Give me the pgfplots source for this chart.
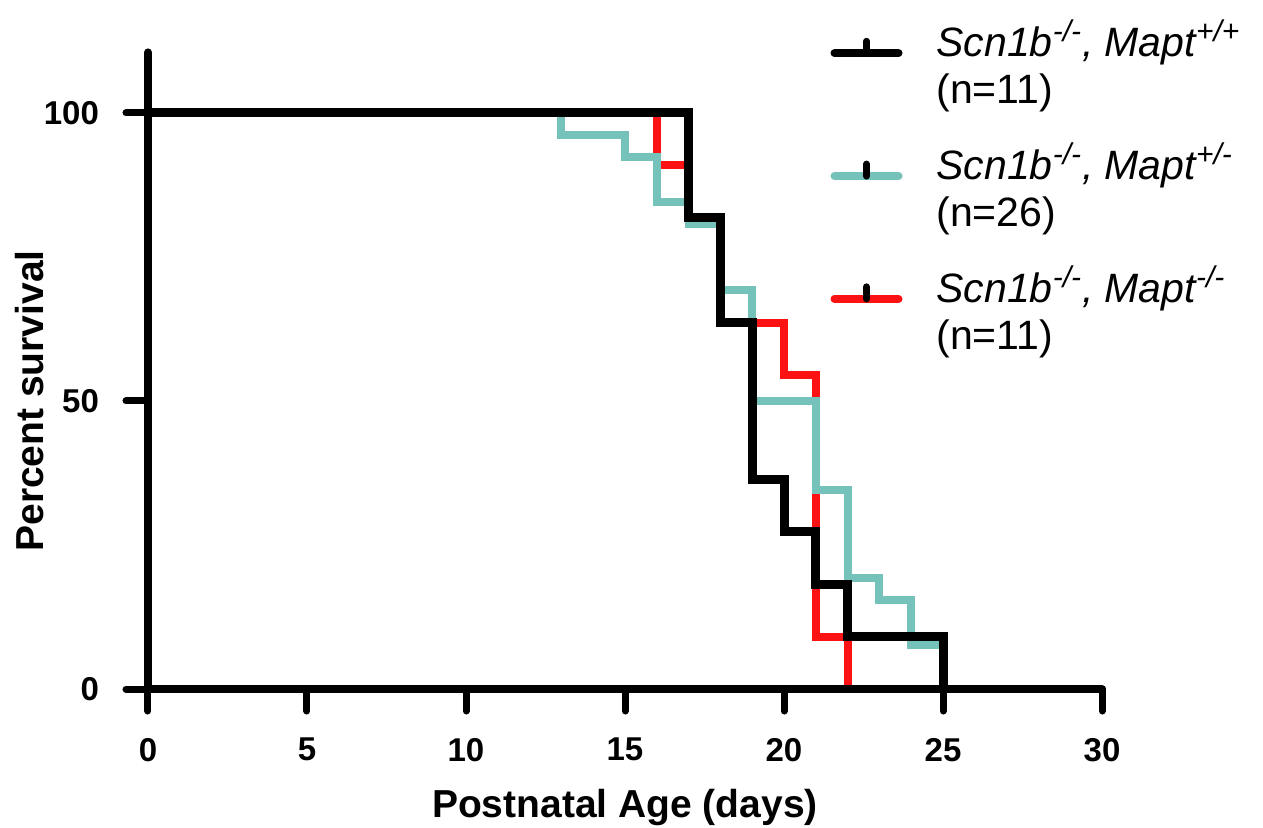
\documentclass[border=0pt]{standalone}
\usepackage{fontspec}
\setmainfont{Liberation Sans}
\usepackage{pgfplots}
\pgfplotsset{compat=1.18}

\definecolor{kmcyan}{RGB}{116,194,186}
\definecolor{kmred}{RGB}{252,18,18}
\newcommand{\gsup}[1]{\textsuperscript{\fontsize{15}{15}\selectfont #1}}

\begin{document}
\begin{tikzpicture}
\begin{axis}[
    scale only axis,
    width=477pt,
    height=318.3pt,
    xmin=0, xmax=30,
    ymin=0, ymax=110.5,
    axis x line=bottom,
    axis y line=left,
    axis line style={line width=4pt, line cap=round, -},
    xtick={0,5,...,30},
    ytick={0,50,100},
    tick align=outside,
    major tick length=11pt,
    tick style={line width=3.5pt, line cap=round, black},
    /pgf/number format/assume math mode=true,
    ticklabel style={font=\bfseries\fontsize{16.5}{19}\selectfont},
    xticklabel style={yshift=-10pt},
    yticklabel style={xshift=-10pt},
    xlabel={Postnatal Age (days)},
    ylabel={Percent survival},
    label style={font=\bfseries\fontsize{19.5}{23}\selectfont},
    xlabel style={yshift=-7pt},
    ylabel style={at={(ticklabel cs:0.4525)}, yshift=-7pt},
    clip=false,
    axis on top,
    reverse legend,
    legend image code/.code={
        \draw[#1, line cap=round, line width=4pt] (0pt,5pt) -- (32pt,5pt);
        \draw[black, line width=3.5pt, line cap=round] (16pt,5pt) -- (16pt,11pt);
    },
    legend style={at={(0.715,1.058)}, anchor=north west, draw=none, fill=none,
        inner sep=0pt, row sep=14pt, column sep=15pt,
        font=\fontsize{20.5}{23.5}\selectfont,
        nodes={align=left}},
    legend cell align=left,
]
\addplot[kmred, line width=4pt, const plot, line join=miter] coordinates {
    (0,100) (16,90.9) (17,81.8) (18,63.6) (20,54.5) (21,9.1) (22,0)
};
\addlegendentry{\textit{Scn1b\gsup{-/-}, Mapt\gsup{-/-}}\\(n=11)}
\addplot[kmcyan, line width=4pt, const plot, line join=miter] coordinates {
    (0,100) (13,96.2) (15,92.3) (16,84.6) (17,80.8) (18,69.2) (19,50)
    (21,34.6) (22,19.2) (23,15.4) (24,7.7) (25,0)
};
\addlegendentry{\textit{Scn1b\gsup{-/-}, Mapt\gsup{+/-}}\\(n=26)}
\addplot[black, line width=4.5pt, const plot, line join=miter] coordinates {
    (0,100) (17,81.8) (18,63.6) (19,36.4) (20,27.3) (21,18.2) (22,9.1) (25,0)
};
\addlegendentry{\textit{Scn1b\gsup{-/-}, Mapt\gsup{+/+}}\\(n=11)}
\end{axis}
\pgfresetboundingbox
\path[use as bounding box] (-74pt,-69pt) rectangle (557.5pt,344.5pt);
\end{tikzpicture}
\end{document}
